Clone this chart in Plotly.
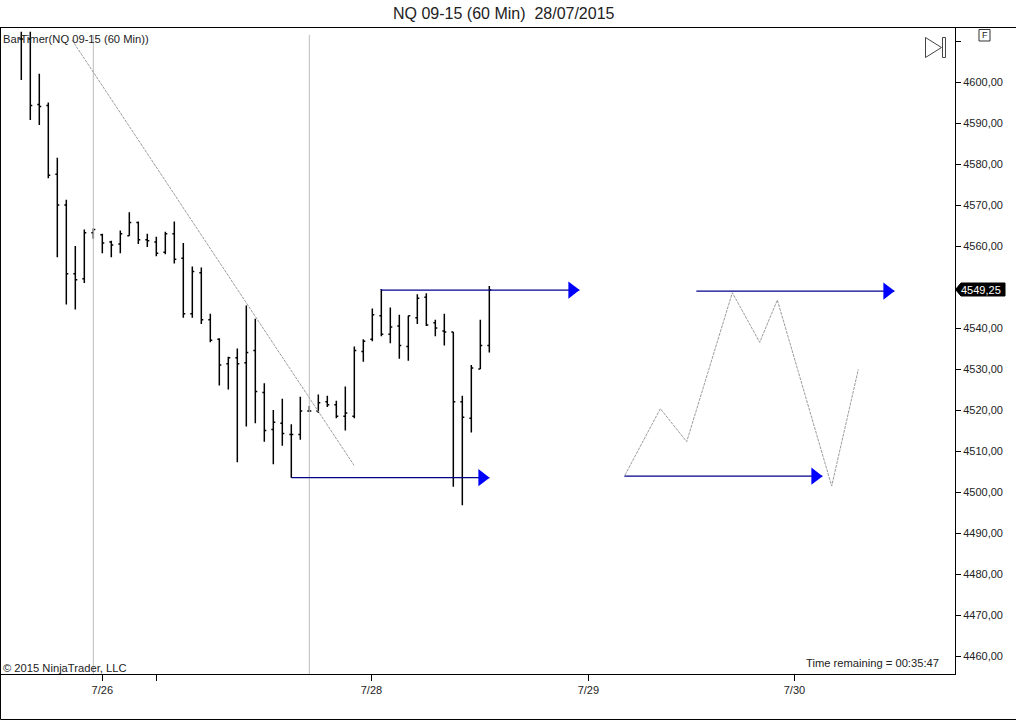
import plotly.graph_objects as go

title = "NQ 09-15 (60 Min) \u00a028/07/2015"
bar_timer = "BarTimer(NQ 09-15 (60 Min))"
copyright_text = "\u00a9 2015 NinjaTrader, LLC"
time_remaining = "Time remaining = 00:35:47"
last_price = 4549.25

highs = [4612.25,4612.25,4602,4595,4581.5,4571.25,4560,4564,4564.25,4563,4561.25,4563.75,4568.25,4566,4563,4562.25,4563.5,4566,4560.75,4555,4554.75,4543.5,4537.5,4533,4535,4545.5,4542.25,4526.5,4520,4522.75,4516.5,4523.25,4521,4523.75,4523.5,4522.25,4525.75,4535.5,4537.25,4544.75,4549.5,4545,4543.25,4543,4548.25,4548.5,4542,4543.5,4539,4523.5,4531,4542,4550.25]
lows = [4600.5,4590.75,4589.5,4576.5,4557.25,4545.75,4544.5,4551,4561.75,4558.25,4557.25,4558.25,4562.5,4560.5,4559.75,4557.5,4558,4555.75,4542.5,4542.5,4541,4536.5,4526,4525,4507.25,4516,4516.75,4512.25,4506.75,4511.25,4503.5,4512.75,4519.5,4519.25,4520.75,4518,4515,4518,4531.75,4536.75,4538,4536.25,4532.5,4532,4541,4540.5,4538,4535.75,4501.25,4496.75,4514.5,4530,4534]
opens = [4610.5,4610.5,4594.5,4594.25,4577.5,4570,4553.25,4552,4563.25,4562.75,4561,4560.5,4562.5,4565.75,4561.5,4561,4558.5,4563,4557,4543.5,4553.5,4542,4537.25,4531.25,4532.75,4531.5,4534.5,4524.25,4515.25,4516.75,4514,4514,4519.75,4519.75,4522,4521.25,4518.5,4518.5,4534.25,4537.25,4543,4538.5,4540.5,4535.5,4542.5,4547.5,4541.25,4539.25,4539,4522,4518,4530,4535.75]
closes = [4610.5,4594.25,4594,4577.25,4570,4553.25,4551.75,4563.25,4564,4560.75,4560.25,4563,4565.75,4561.5,4561.25,4558.25,4563,4556.75,4543.5,4553.75,4542,4537,4531,4532.75,4531.25,4534,4524.5,4515,4517,4514.25,4514,4519.75,4519.75,4521.75,4521.25,4518.5,4519.25,4534.5,4536.75,4543.25,4538.5,4540.25,4535.75,4543,4547.25,4540.75,4540,4539,4522,4518.25,4530.25,4535.75,last_price]
bar_index = list(range(len(highs)))

# axis
y_ticks = [4460,4470,4480,4490,4500,4510,4520,4530,4540,4560,4570,4580,4590,4600,4610]
y_labels = [f"{v},00" for v in y_ticks[:-1]] + [""]
x_ticks = [9, 15, 38.9, 63, 85.9]
x_labels = ["7/26", "", "7/28", "7/29", "7/30"]
y_range = [4455.61, 4613.17]
x_range = [-2.367, 103.74]

# drawing objects
session_x = [8, 32]
trend_x = [5.63, 36.97]
trend_y = [4610.25, 4506.5]
zig_x = [67.08, 71, 73.93, 79, 82.04, 84, 90.04, 93]
zig_y = [4504.15, 4520.32, 4512.27, 4548.61, 4536.51, 4546.83, 4501.46, 4529.93]
arrow_x0 = [30, 40, 75, 67]
arrow_x1 = [52, 62, 97, 89]
arrow_head_x = [51.2, 61.2, 96.2, 88.2]
arrow_y = [4503.5, 4549.25, 4549, 4503.85]

W, H = 1016, 720
L, R, T, B = 0, 955, 28, 674
def px(x): return (x - L) / (R - L)
def py(y): return 1 - (y - T) / (B - T)

fig = go.Figure()
for x in session_x:
    fig.add_trace(go.Scatter(x=[x, x], y=[4611.5, y_range[0]], mode="lines",
                             line=dict(color="#bcbcbc", width=1), hoverinfo="skip"))
fig.add_trace(go.Scatter(x=trend_x, y=trend_y, mode="lines",
                         line=dict(color="#9c9c9c", width=1, dash="3px,1px"), hoverinfo="skip"))
fig.add_trace(go.Scatter(x=zig_x, y=zig_y, mode="lines",
                         line=dict(color="#9c9c9c", width=1, dash="3px,1px"), hoverinfo="skip"))
fig.add_trace(go.Ohlc(x=bar_index, open=opens, high=highs, low=lows, close=closes,
                      increasing=dict(line=dict(color="black", width=1.5)),
                      decreasing=dict(line=dict(color="black", width=1.5)),
                      tickwidth=0.22, hoverinfo="skip"))
# stem from last low bar down to the lower arrow line
fig.add_trace(go.Scatter(x=[arrow_x0[1], arrow_x0[1]], y=[highs[40], arrow_y[1]], mode="lines",
                         line=dict(color="#00008b", width=1.3), hoverinfo="skip"))
for x0, x1, y in zip(arrow_x0, arrow_x1, arrow_y):
    fig.add_trace(go.Scatter(x=[x0, x1], y=[y, y], mode="lines",
                             line=dict(color="#00008b", width=1.3), hoverinfo="skip"))
fig.add_trace(go.Scatter(x=arrow_head_x, y=arrow_y, mode="markers",
                         marker=dict(symbol="triangle-right", size=15, color="#0000ff"),
                         hoverinfo="skip"))

font = "Liberation Sans, Arial, sans-serif"
txt = "#222222"
def note(x, y, text, size=11.2, anchor="left", color=txt):
    fig.add_annotation(xref="paper", yref="paper", x=px(x), y=py(y), text=text, showarrow=False,
                       xanchor=anchor, yanchor="middle", font=dict(family=font, size=size, color=color),
                       borderpad=0, borderwidth=0)

note(504, 13.5, title, size=16, anchor="center")
note(3, 39, bar_timer)
note(3, 668, copyright_text)
note(939, 663, time_remaining, anchor="right")
note(984.5, 35, "F", size=9, anchor="center")
note(981, 289.5, f"{last_price:.2f}".replace(".", ","), size=11, anchor="center", color="white")

def line_shape(pts, close=False, fill=None, color="black", width=1, yref="paper"):
    d = "M " + " L ".join(f"{px(a):.5f},{(py(b) if yref == 'paper' else b):.5f}" for a, b in pts)
    if close:
        d += " Z"
    fig.add_shape(type="path", path=d, xref="paper", yref=yref,
                  line=dict(color=color, width=width), fillcolor=fill, layer="above")

# current price tag
line_shape([(955.5, 289.5), (961, 283), (1005, 283), (1005, 296), (961, 296)], close=True, fill="black")
# frame pieces outside the plot
line_shape([(0.5, 27.5), (0.5, 719.5), (1016, 719.5)], color="black")
line_shape([(955, 27.5), (1016, 27.5)], color="black")
# "F" box
line_shape([(979, 29.5), (990, 29.5), (990, 41), (979, 41)], close=True, color="#333333")
# play/end icon
line_shape([(925.5, 37.5), (925.5, 57.5), (941.5, 47.5)], close=True, color="#444444")
line_shape([(942.5, 37.5), (945.5, 37.5), (945.5, 57.5), (942.5, 57.5)], close=True, color="#444444")

fig.update_layout(
    width=W, height=H, autosize=False, showlegend=False,
    margin=dict(l=L, r=W - R, t=T, b=H - B, pad=0),
    paper_bgcolor="white", plot_bgcolor="white",
    separators=",.",
    font=dict(family=font, size=11, color=txt),
    xaxis=dict(type="linear", range=x_range, tickmode="array", tickvals=x_ticks, ticktext=x_labels,
               showgrid=False, zeroline=False, rangeslider=dict(visible=False),
               ticks="outside", ticklen=6, tickcolor="black", tickwidth=1,
               showline=True, linecolor="black", linewidth=1, mirror=True,
               tickfont=dict(family=font, size=11, color=txt)),
    yaxis=dict(type="linear", side="right", range=y_range, tickmode="array", tickvals=y_ticks, ticktext=y_labels,
               showgrid=False, zeroline=False, ticks="outside", ticklen=5, tickcolor="black", tickwidth=1,
               showline=True, linecolor="black", linewidth=1, mirror=True,
               tickfont=dict(family=font, size=11, color=txt)),
)
fig.write_html("out.html", config=dict(displayModeBar=False),
               post_script="document.body.style.margin='0';document.body.style.overflow='hidden';")
